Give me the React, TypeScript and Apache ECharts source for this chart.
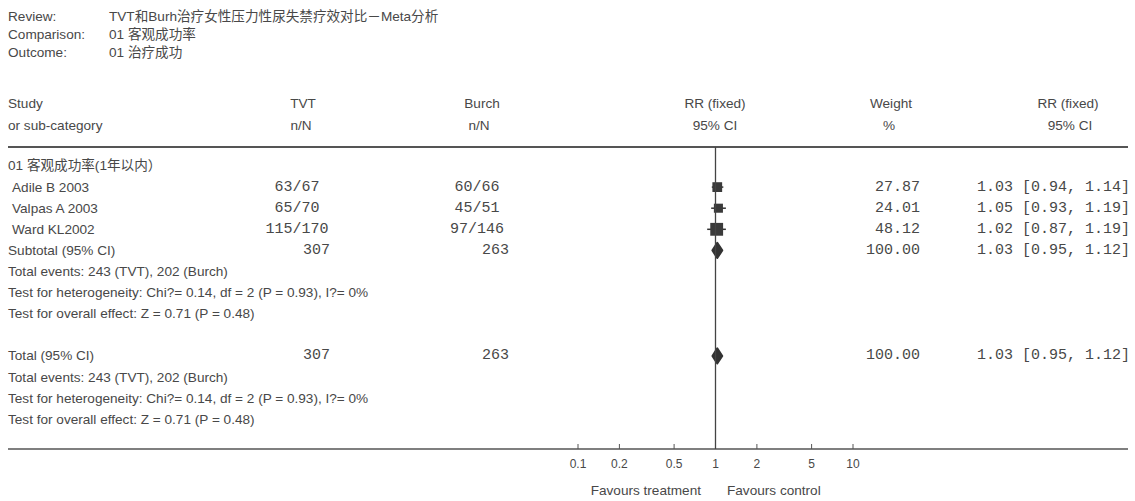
import React, { useEffect, useRef } from "react";
import * as echarts from "echarts";

// ---------- data ----------
const reviewText = "TVT和Burh治疗女性压力性尿失禁疗效对比－Meta分析";
const comparisonText = "01 客观成功率";
const outcomeText = "01 治疗成功";
const groupLabel = "01 客观成功率(1年以内）";

const studyNames = ["Adile B 2003", "Valpas A 2003", "Ward KL2002"];
const tvtEvents = [63, 65, 115];
const tvtTotals = [67, 70, 170];
const burchEvents = [60, 45, 97];
const burchTotals = [66, 51, 146];
const weights = [27.87, 24.01, 48.12];
const rrValues = [1.03, 1.05, 1.02];
const ciLower = [0.94, 0.93, 0.87];
const ciUpper = [1.14, 1.19, 1.19];

const pooledRR = 1.03;
const pooledLower = 0.95;
const pooledUpper = 1.12;
const pooledWeight = 100.0;
const tvtTotalN = 307;
const burchTotalN = 263;
const tvtTotalEvents = 243;
const burchTotalEvents = 202;
const heterogeneityText = "Test for heterogeneity: Chi?= 0.14, df = 2 (P = 0.93), I?= 0%";
const overallEffectText = "Test for overall effect: Z = 0.71 (P = 0.48)";

const axisTicks = [0.1, 0.2, 0.5, 1, 2, 5, 10];

// row indices (y-axis units)
const studyRows = [1, 2, 3];
const groupRow = 0;
const subtotalRow = 4;
const totalRow = 9;
const Y_MIN = -0.9;
const Y_MAX = 13.41;

// ---------- styles ----------
const SANS = "'Liberation Sans', Arial, 'Noto Sans CJK SC', sans-serif";
const MONO = "'Liberation Mono', 'Courier New', monospace";
const TEXT = "#484848";
const SANS_SIZE = 13.6;
const MONO_SIZE = 15;

const COL = {
  label: 8,
  study: 12,
  tvtMid: 297,
  tvtRight: 330,
  burchMid: 477,
  burchRight: 509,
  weightRight: 920,
  ciLeft: 977,
};

type Cell = { text: string; x: number; align: "left" | "center" | "right"; mono?: boolean };
type Row = { row: number; cells: Cell[] };

const fmtCI = (r: number, l: number, h: number) =>
  `${r.toFixed(2)} [${l.toFixed(2)}, ${h.toFixed(2)}]`;

const summaryRows = (start: number, label: string): Row[] => [
  {
    row: start,
    cells: [
      { text: label, x: COL.label, align: "left" },
      { text: String(tvtTotalN), x: COL.tvtRight, align: "right", mono: true },
      { text: String(burchTotalN), x: COL.burchRight, align: "right", mono: true },
      { text: pooledWeight.toFixed(2), x: COL.weightRight, align: "right", mono: true },
      { text: fmtCI(pooledRR, pooledLower, pooledUpper), x: COL.ciLeft, align: "left", mono: true },
    ],
  },
  {
    row: start + 1,
    cells: [
      {
        text: `Total events: ${tvtTotalEvents} (TVT), ${burchTotalEvents} (Burch)`,
        x: COL.label,
        align: "left",
      },
    ],
  },
  { row: start + 2, cells: [{ text: heterogeneityText, x: COL.label, align: "left" }] },
  { row: start + 3, cells: [{ text: overallEffectText, x: COL.label, align: "left" }] },
];

const tableRows: Row[] = [
  { row: groupRow, cells: [{ text: groupLabel, x: COL.label, align: "left" }] },
  ...studyNames.map((name, i) => ({
    row: studyRows[i],
    cells: [
      { text: name, x: COL.study, align: "left" as const },
      { text: `${tvtEvents[i]}/${tvtTotals[i]}`, x: COL.tvtMid, align: "center" as const, mono: true },
      { text: `${burchEvents[i]}/${burchTotals[i]}`, x: COL.burchMid, align: "center" as const, mono: true },
      { text: weights[i].toFixed(2), x: COL.weightRight, align: "right" as const, mono: true },
      { text: fmtCI(rrValues[i], ciLower[i], ciUpper[i]), x: COL.ciLeft, align: "left" as const, mono: true },
    ],
  })),
  ...summaryRows(subtotalRow, "Subtotal (95% CI)"),
  ...summaryRows(totalRow, "Total (95% CI)"),
];

const lg = Math.log10;

export default function App() {
  const ref = useRef<HTMLDivElement>(null);

  useEffect(() => {
    document.body.style.margin = "0";
    const chart = echarts.init(ref.current!, null, { renderer: "svg" });

    const txt = (text: string, x: number, y: number, align = "left", opts: any = {}) => ({
      type: "text",
      x,
      y,
      style: {
        text,
        font: `${opts.size || SANS_SIZE}px ${opts.family || SANS}`,
        fill: TEXT,
        textAlign: align,
        align,
        textVerticalAlign: "middle",
        verticalAlign: "middle",
      },
      silent: true,
    });

    const studyData = studyNames.map((_, i) => [
      lg(rrValues[i]),
      lg(ciLower[i]),
      lg(ciUpper[i]),
      weights[i],
      studyRows[i],
    ]);
    const pooledData = [subtotalRow, totalRow].map((r) => [
      lg(pooledRR),
      lg(pooledLower),
      lg(pooledUpper),
      pooledWeight,
      r,
    ]);

    const option: any = {
      animation: false,
      textStyle: { fontFamily: SANS },
      grid: { left: 578, width: 275, top: 147, height: 302, containLabel: false },
      xAxis: {
        type: "value",
        position: "bottom",
        min: -1,
        max: 1,
        axisLine: { show: false, onZero: false },
        splitLine: { show: false },
        axisTick: { show: false },
        axisLabel: {
          customValues: axisTicks.map(lg),
          formatter: (v: number) => String(Math.round(Math.pow(10, v) * 10) / 10),
          color: TEXT,
          fontSize: 12,
          fontFamily: SANS,
          margin: 9,
        },
      },
      yAxis: { type: "value", inverse: true, min: Y_MIN, max: Y_MAX, show: false },
      graphic: [
        txt("Review:", 8, 16),
        txt(reviewText, 109, 16),
        txt("Comparison:", 8, 34),
        txt(comparisonText, 109, 34),
        txt("Outcome:", 8, 52),
        txt(outcomeText, 109, 52),
        txt("Study", 8, 103),
        txt("or sub-category", 8, 125),
        txt("TVT", 303, 103, "center"),
        txt("n/N", 301, 125, "center"),
        txt("Burch", 482, 103, "center"),
        txt("n/N", 479, 125, "center"),
        txt("RR (fixed)", 715, 103, "center"),
        txt("95% CI", 715, 125, "center"),
        txt("Weight", 891, 103, "center"),
        txt("%", 889, 125, "center"),
        txt("RR (fixed)", 1068, 103, "center"),
        txt("95% CI", 1070, 125, "center"),
        txt("Favours treatment", 701, 490, "right"),
        txt("Favours control", 727, 490, "left"),
        {
          type: "line",
          shape: { x1: 8, y1: 147, x2: 1128, y2: 147 },
          style: { stroke: "#555", lineWidth: 2 },
          silent: true,
        },
        {
          type: "line",
          shape: { x1: 8, y1: 449, x2: 1128, y2: 449 },
          style: { stroke: "#555", lineWidth: 1.5 },
          silent: true,
        },
      ],
      series: [
        {
          type: "custom",
          name: "table",
          clip: false,
          silent: true,
          data: tableRows.map((r) => [0, r.row]),
          encode: { x: 0, y: 1 },
          renderItem: (params: any, api: any) => {
            const r = tableRows[params.dataIndex];
            const y = api.coord([0, r.row])[1];
            return {
              type: "group",
              children: r.cells.map((c) => ({
                type: "text",
                x: c.x,
                y,
                style: {
                  text: c.text,
                  font: c.mono ? `${MONO_SIZE}px ${MONO}` : `${SANS_SIZE}px ${SANS}`,
                  fill: TEXT,
                  textAlign: c.align,
                  align: c.align,
                  textVerticalAlign: "middle",
                  verticalAlign: "middle",
                },
              })),
            };
          },
          z: 5,
        },
        {
          type: "custom",
          name: "ticks",
          clip: false,
          silent: true,
          data: axisTicks.map((v) => [lg(v), Y_MAX]),
          encode: { x: 0, y: 1 },
          renderItem: (params: any, api: any) => {
            const p = api.coord([api.value(0), api.value(1)]);
            return {
              type: "line",
              shape: { x1: p[0], y1: p[1] - 5, x2: p[0], y2: p[1] },
              style: { stroke: "#555", lineWidth: 1 },
            };
          },
          z: 2,
        },
        {
          type: "custom",
          name: "studies",
          clip: false,
          silent: true,
          data: studyData,
          encode: { x: 0, y: 4 },
          renderItem: (params: any, api: any) => {
            const row = api.value(4);
            const c = api.coord([api.value(0), row]);
            const l = api.coord([api.value(1), row]);
            const h = api.coord([api.value(2), row]);
            const side = Math.sqrt(api.value(3)) * 1.85;
            return {
              type: "group",
              children: [
                {
                  type: "line",
                  shape: { x1: l[0], y1: l[1], x2: h[0], y2: h[1] },
                  style: { stroke: "#333", lineWidth: 1.5 },
                },
                {
                  type: "rect",
                  shape: { x: c[0] - side / 2, y: c[1] - side / 2, width: side, height: side },
                  style: { fill: "#3a3a3a" },
                },
              ],
            };
          },
          markLine: {
            silent: true,
            symbol: "none",
            label: { show: false },
            lineStyle: { color: "#444", width: 1.3, type: "solid" },
            data: [{ xAxis: 0 }],
          },
          z: 3,
        },
        {
          type: "custom",
          name: "pooled",
          clip: false,
          silent: true,
          data: pooledData,
          encode: { x: 0, y: 4 },
          renderItem: (params: any, api: any) => {
            const row = api.value(4);
            const top = api.coord([api.value(0), row - 0.36]);
            const bottom = api.coord([api.value(0), row + 0.36]);
            const l = api.coord([api.value(1), row]);
            const h = api.coord([api.value(2), row]);
            return {
              type: "polygon",
              shape: { points: [l, top, h, bottom] },
              style: { fill: "#333", stroke: "#333", lineWidth: 2, lineJoin: "round" },
            };
          },
          z: 4,
        },
      ],
    };

    chart.setOption(option);
    return () => chart.dispose();
  }, []);

  return <div ref={ref} style={{ width: 1135, height: 501 }} />;
}
